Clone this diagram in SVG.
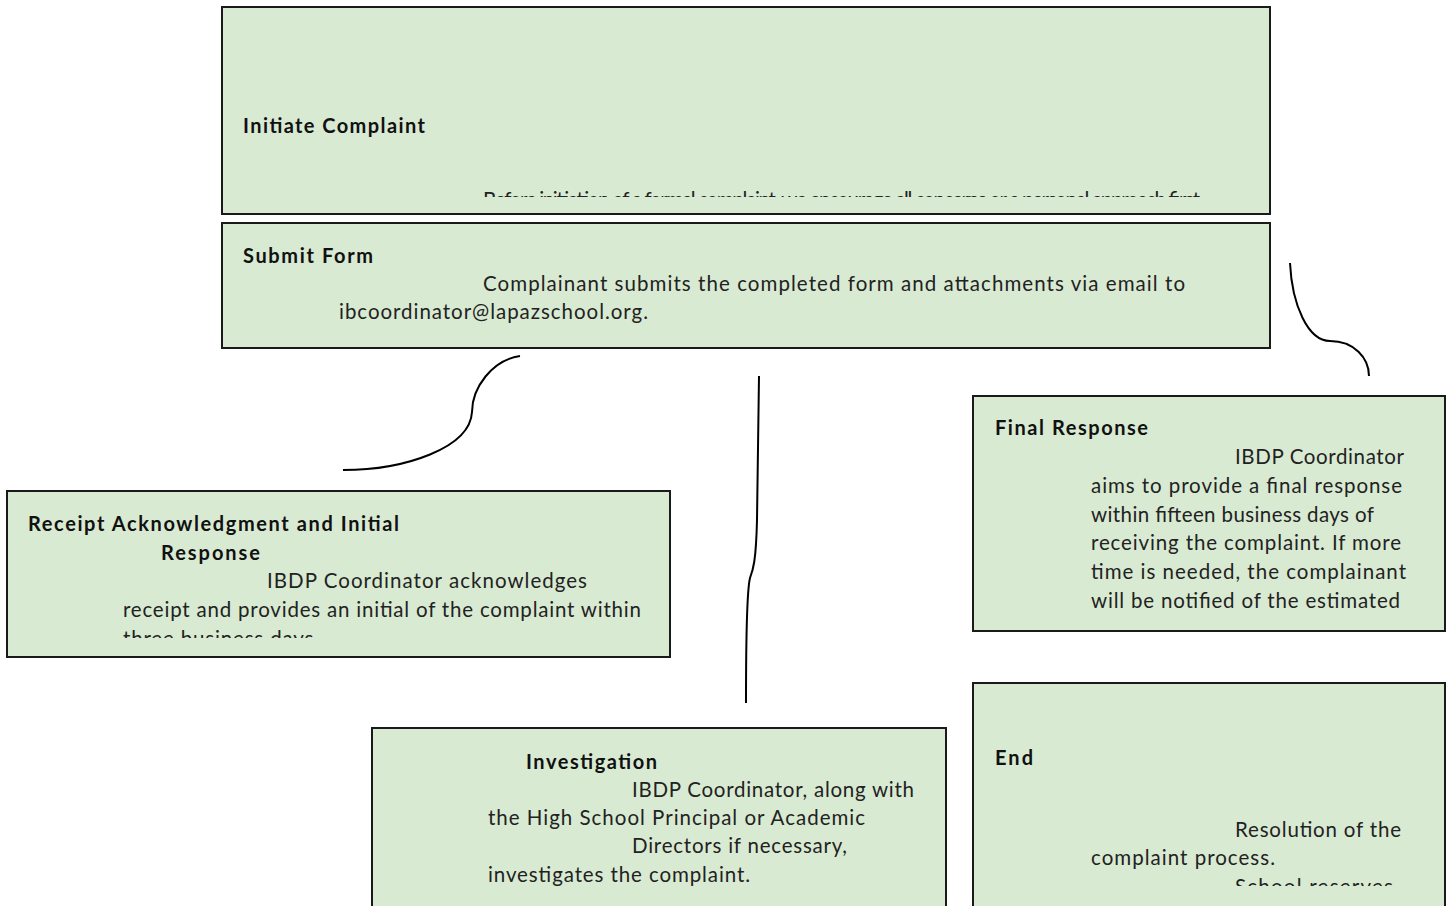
<svg xmlns="http://www.w3.org/2000/svg" width="1452" height="906" viewBox="0 0 1452 906">
<style>
.box{fill:#d9ead3;stroke:#1a1a1a;stroke-width:2}
text{font-family:"Lato","Open Sans","Liberation Sans",sans-serif;font-size:20.5px;fill:#222}
.b{font-weight:bold;fill:#111;font-size:20px}
.conn{fill:none;stroke:#000;stroke-width:2}
</style>
<defs>
<clipPath id="c1"><rect x="222" y="7" width="1048" height="190"/></clipPath>
<clipPath id="c3"><rect x="7" y="491" width="663" height="147"/></clipPath>
<clipPath id="c4"><rect x="973" y="396" width="472" height="226"/></clipPath>
<clipPath id="c6"><rect x="973" y="683" width="472" height="203"/></clipPath>
</defs>
<rect width="1452" height="906" fill="#fff"/>
<g id="connectors">
<path class="conn" d="M520,356 C492,360 472,388 472,412 C470,448 405,470 343,470"/>
<path class="conn" d="M1290,263 C1292,305 1308,341 1330,341 C1354,341 1369,358 1369,376"/>
<path class="conn" d="M759,376 L757,520 C756,562 753,570 750,578 C747,590 746,625 746,703"/>
</g>
<g id="node-initiate">
<rect class="box" x="222" y="7" width="1048" height="207"/>
<text class="b" x="243" y="133" textLength="182">Initiate Complaint</text>
<g clip-path="url(#c1)"><text x="483" y="207" textLength="717">Before initiation of a formal complaint, we encourage all concerns or a personal approach first</text></g>
</g>
<g id="node-submit">
<rect class="box" x="222" y="223" width="1048" height="125"/>
<text class="b" x="243" y="263" textLength="130">Submit Form</text>
<text x="483" y="291" textLength="702">Complainant submits the completed form and attachments via email to</text>
<text x="339" y="319" textLength="309">ibcoordinator@lapazschool.org.</text>
</g>
<g id="node-receipt">
<rect class="box" x="7" y="491" width="663" height="166"/>
<text class="b" x="28" y="531" textLength="371">Receipt Acknowledgment and Initial</text>
<text class="b" x="161" y="560" textLength="99">Response</text>
<text x="267" y="588" textLength="320">IBDP Coordinator acknowledges</text>
<text x="123" y="617" textLength="518">receipt and provides an initial of the complaint within</text>
<g clip-path="url(#c3)"><text x="123" y="646" textLength="196">three business days.</text></g>
</g>
<g id="node-final">
<rect class="box" x="973" y="396" width="472" height="235"/>
<text class="b" x="995" y="435" textLength="153">Final Response</text>
<g clip-path="url(#c4)">
<text x="1235" y="464" textLength="169">IBDP Coordinator</text>
<text x="1091" y="493" textLength="311">aims to provide a final response</text>
<text x="1091" y="522" textLength="283">within fifteen business days of</text>
<text x="1091" y="550" textLength="310">receiving the complaint. If more</text>
<text x="1091" y="579" textLength="315">time is needed, the complainant</text>
<text x="1091" y="608" textLength="309">will be notified of the estimated</text>
</g>
</g>
<g id="node-investigation">
<rect class="box" x="372" y="728" width="574" height="190"/>
<text class="b" x="526" y="769" textLength="131">Investigation</text>
<text x="632" y="797" textLength="282">IBDP Coordinator, along with</text>
<text x="488" y="825" textLength="377">the High School Principal or Academic</text>
<text x="632" y="853" textLength="215">Directors if necessary,</text>
<text x="488" y="882" textLength="262">investigates the complaint.</text>
</g>
<g id="node-end">
<rect class="box" x="973" y="683" width="472" height="235"/>
<text class="b" x="995" y="765" textLength="38">End</text>
<g clip-path="url(#c6)">
<text x="1235" y="837" textLength="166">Resolution of the</text>
<text x="1091" y="865" textLength="184">complaint process.</text>
<text x="1235" y="894" textLength="158">School reserves</text>
</g>
</g>
</svg>
